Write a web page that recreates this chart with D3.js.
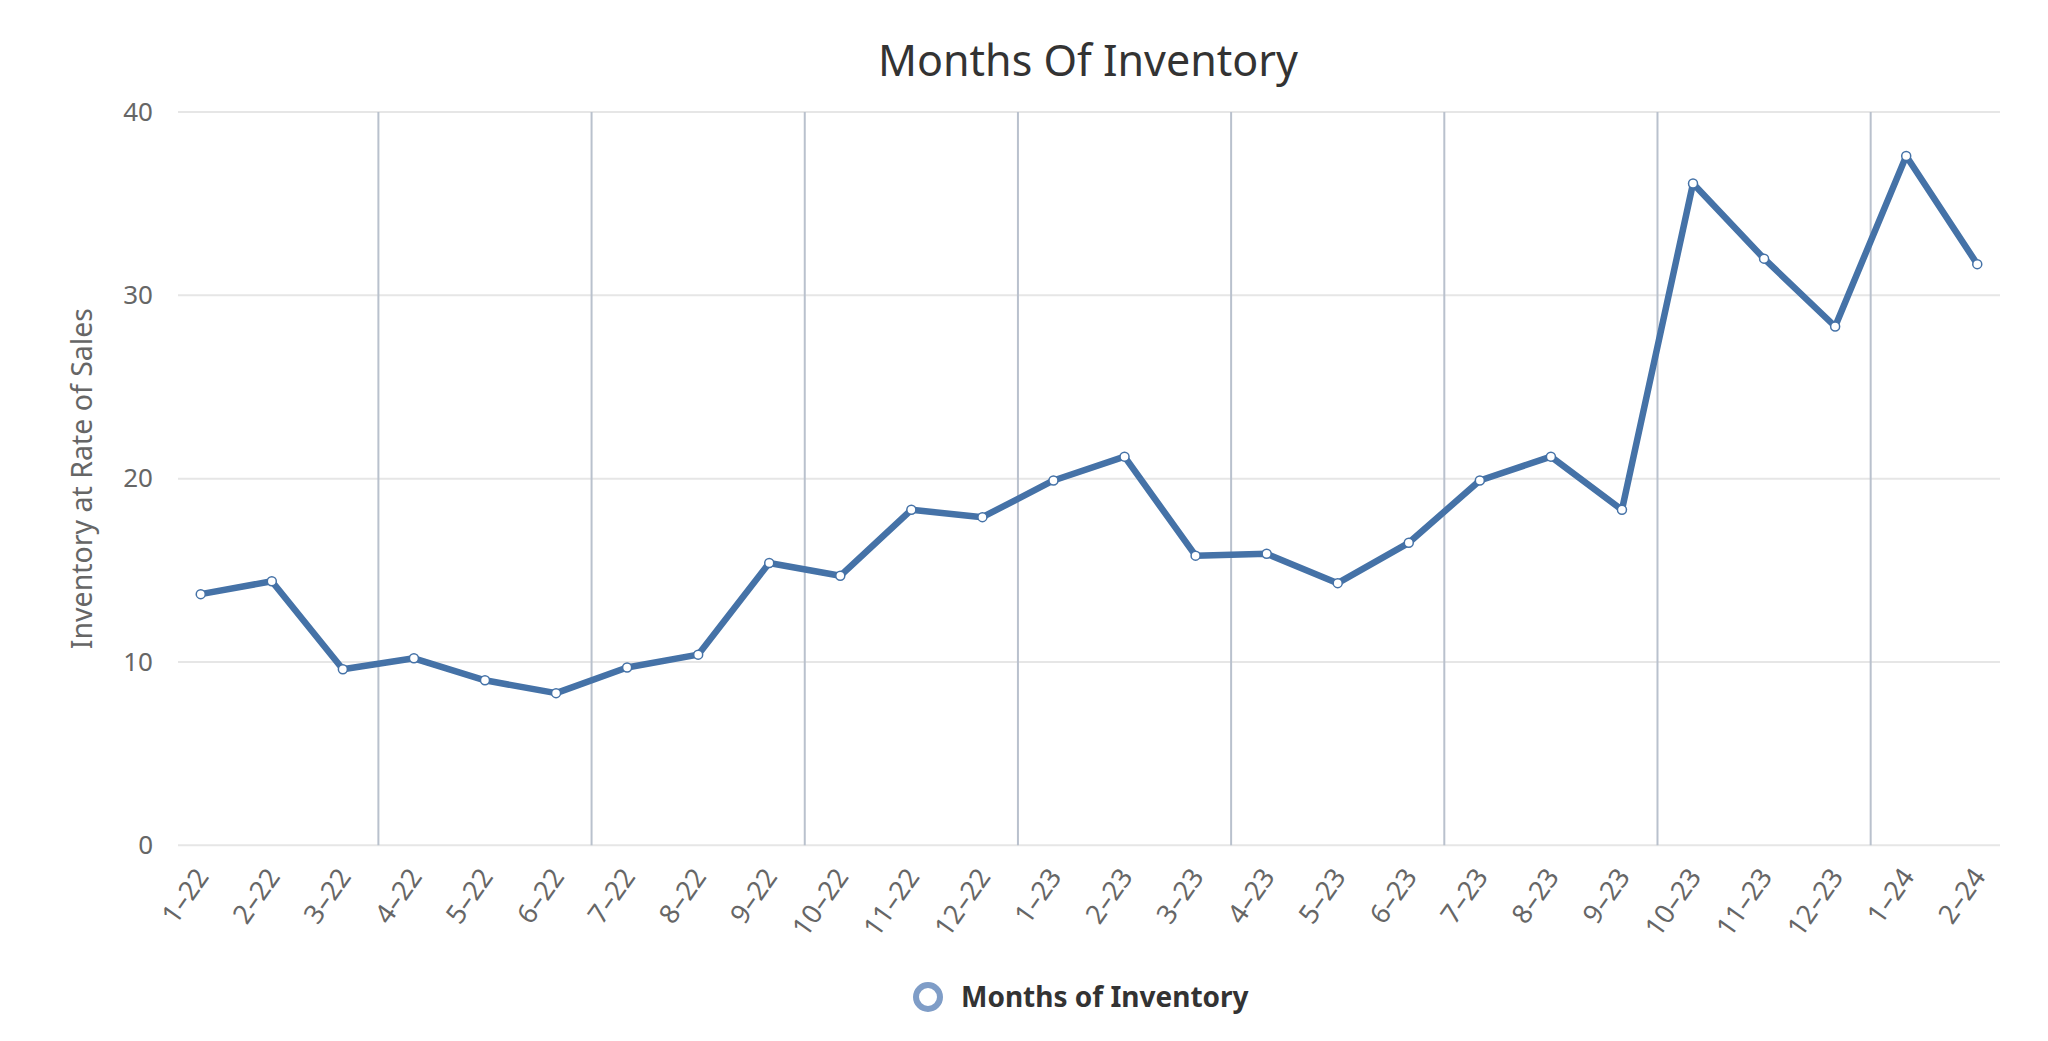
<!DOCTYPE html>
<html>
<head>
<meta charset="utf-8">
<script src="https://cdn.jsdelivr.net/npm/d3@7"></script>
<style>
  html, body { margin: 0; padding: 0; background: #fff; }
  svg { display: block; font-family: "Noto Sans", sans-serif; }
</style>
</head>
<body>
<div id="chart"></div>
<script>
// months, Jan 2022 .. Feb 2024
const months = [
  '1-22', '2-22', '3-22', '4-22', '5-22', '6-22', '7-22', '8-22', '9-22', '10-22', '11-22', '12-22',
  '1-23', '2-23', '3-23', '4-23', '5-23', '6-23', '7-23', '8-23', '9-23', '10-23', '11-23', '12-23',
  '1-24', '2-24'
];
const inventory = [
  13.7, 14.4, 9.6, 10.2, 9.0, 8.3, 9.7, 10.4, 15.4, 14.7, 18.3, 17.9,
  19.9, 21.2, 15.8, 15.9, 14.3, 16.5, 19.9, 21.2, 18.3, 36.1, 32.0, 28.3,
  37.6, 31.7
];
const yTicks = [0, 10, 20, 30, 40];
// vertical lines fall between these months and the next one
const quarterEnds = ['3-22', '6-22', '9-22', '12-22', '3-23', '6-23', '9-23', '12-23'];

const width = 2048;
const height = 1041;
const margin = { top: 112, right: 48, bottom: 196, left: 178 };
const color = '#4572A7';

const svg = d3.select('#chart')
  .append('svg')
  .attr('width', width)
  .attr('height', height);

const x = d3.scalePoint()
  .domain(months)
  .range([margin.left, width - margin.right])
  .padding(0.32);

const y = d3.scaleLinear()
  .domain([0, 40])
  .range([height - margin.bottom + 0.3, margin.top]);

// title
svg.append('text')
  .attr('x', 1088)
  .attr('y', 76)
  .attr('text-anchor', 'middle')
  .attr('fill', '#333')
  .style('font-size', '43px')
  .text('Months Of Inventory');

// horizontal grid
svg.append('g')
  .selectAll('line')
  .data(yTicks)
  .join('line')
  .attr('x1', margin.left)
  .attr('x2', width - margin.right)
  .attr('y1', d => y(d))
  .attr('y2', d => y(d))
  .attr('stroke', '#e6e6e6')
  .attr('stroke-width', 2);

// vertical lines between quarters
svg.append('g')
  .selectAll('line')
  .data(quarterEnds)
  .join('line')
  .attr('x1', d => x(d) + x.step() / 2)
  .attr('x2', d => x(d) + x.step() / 2)
  .attr('y1', y(40))
  .attr('y2', y(0))
  .attr('stroke', '#b9c1cd')
  .attr('stroke-width', 2);

// y axis
const yAxis = svg.append('g')
  .attr('transform', `translate(${margin.left},0)`)
  .call(d3.axisLeft(y).tickValues(yTicks).tickSize(0).tickPadding(25));
yAxis.select('.domain').remove();
yAxis.selectAll('text')
  .attr('fill', '#666')
  .style('font-size', '26px')
  .style('font-family', '"Noto Sans", sans-serif');

svg.append('text')
  .attr('transform', `translate(92,${(y(0) + y(40)) / 2}) rotate(-90)`)
  .attr('text-anchor', 'middle')
  .attr('fill', '#666')
  .style('font-size', '28.5px')
  .text('Inventory at Rate of Sales');

// x axis
const xAxis = svg.append('g')
  .attr('transform', `translate(0,${y(0)})`)
  .call(d3.axisBottom(x).tickSize(0).tickPadding(0));
xAxis.select('.domain').remove();
xAxis.selectAll('text')
  .attr('fill', '#666')
  .style('font-size', '27px')
  .style('font-family', '"Noto Sans", sans-serif')
  .attr('text-anchor', 'end')
  .attr('dy', '0.35em')
  .attr('transform', 'translate(1,26) rotate(-55)')
  .text(d => d.replace('-', '\u2013'));

// series
const line = d3.line()
  .x((d, i) => x(months[i]))
  .y(d => y(d));

svg.append('path')
  .datum(inventory)
  .attr('d', line)
  .attr('fill', 'none')
  .attr('stroke', color)
  .attr('stroke-width', 6.5)
  .attr('stroke-linejoin', 'round')
  .attr('stroke-linecap', 'round');

svg.append('g')
  .selectAll('circle')
  .data(inventory)
  .join('circle')
  .attr('cx', (d, i) => x(months[i]))
  .attr('cy', d => y(d))
  .attr('r', 4.5)
  .attr('fill', '#fff')
  .attr('stroke', color)
  .attr('stroke-width', 1.5);

// legend
const legend = svg.append('g').attr('transform', 'translate(928,997)');
legend.append('circle')
  .attr('r', 12)
  .attr('fill', '#fff')
  .attr('stroke', '#7f9dc7')
  .attr('stroke-width', 6);
legend.append('text')
  .attr('x', 33)
  .attr('y', 10)
  .attr('fill', '#333')
  .style('font-size', '28px')
  .style('font-weight', 'bold')
  .text('Months of Inventory');
</script>
</body>
</html>
